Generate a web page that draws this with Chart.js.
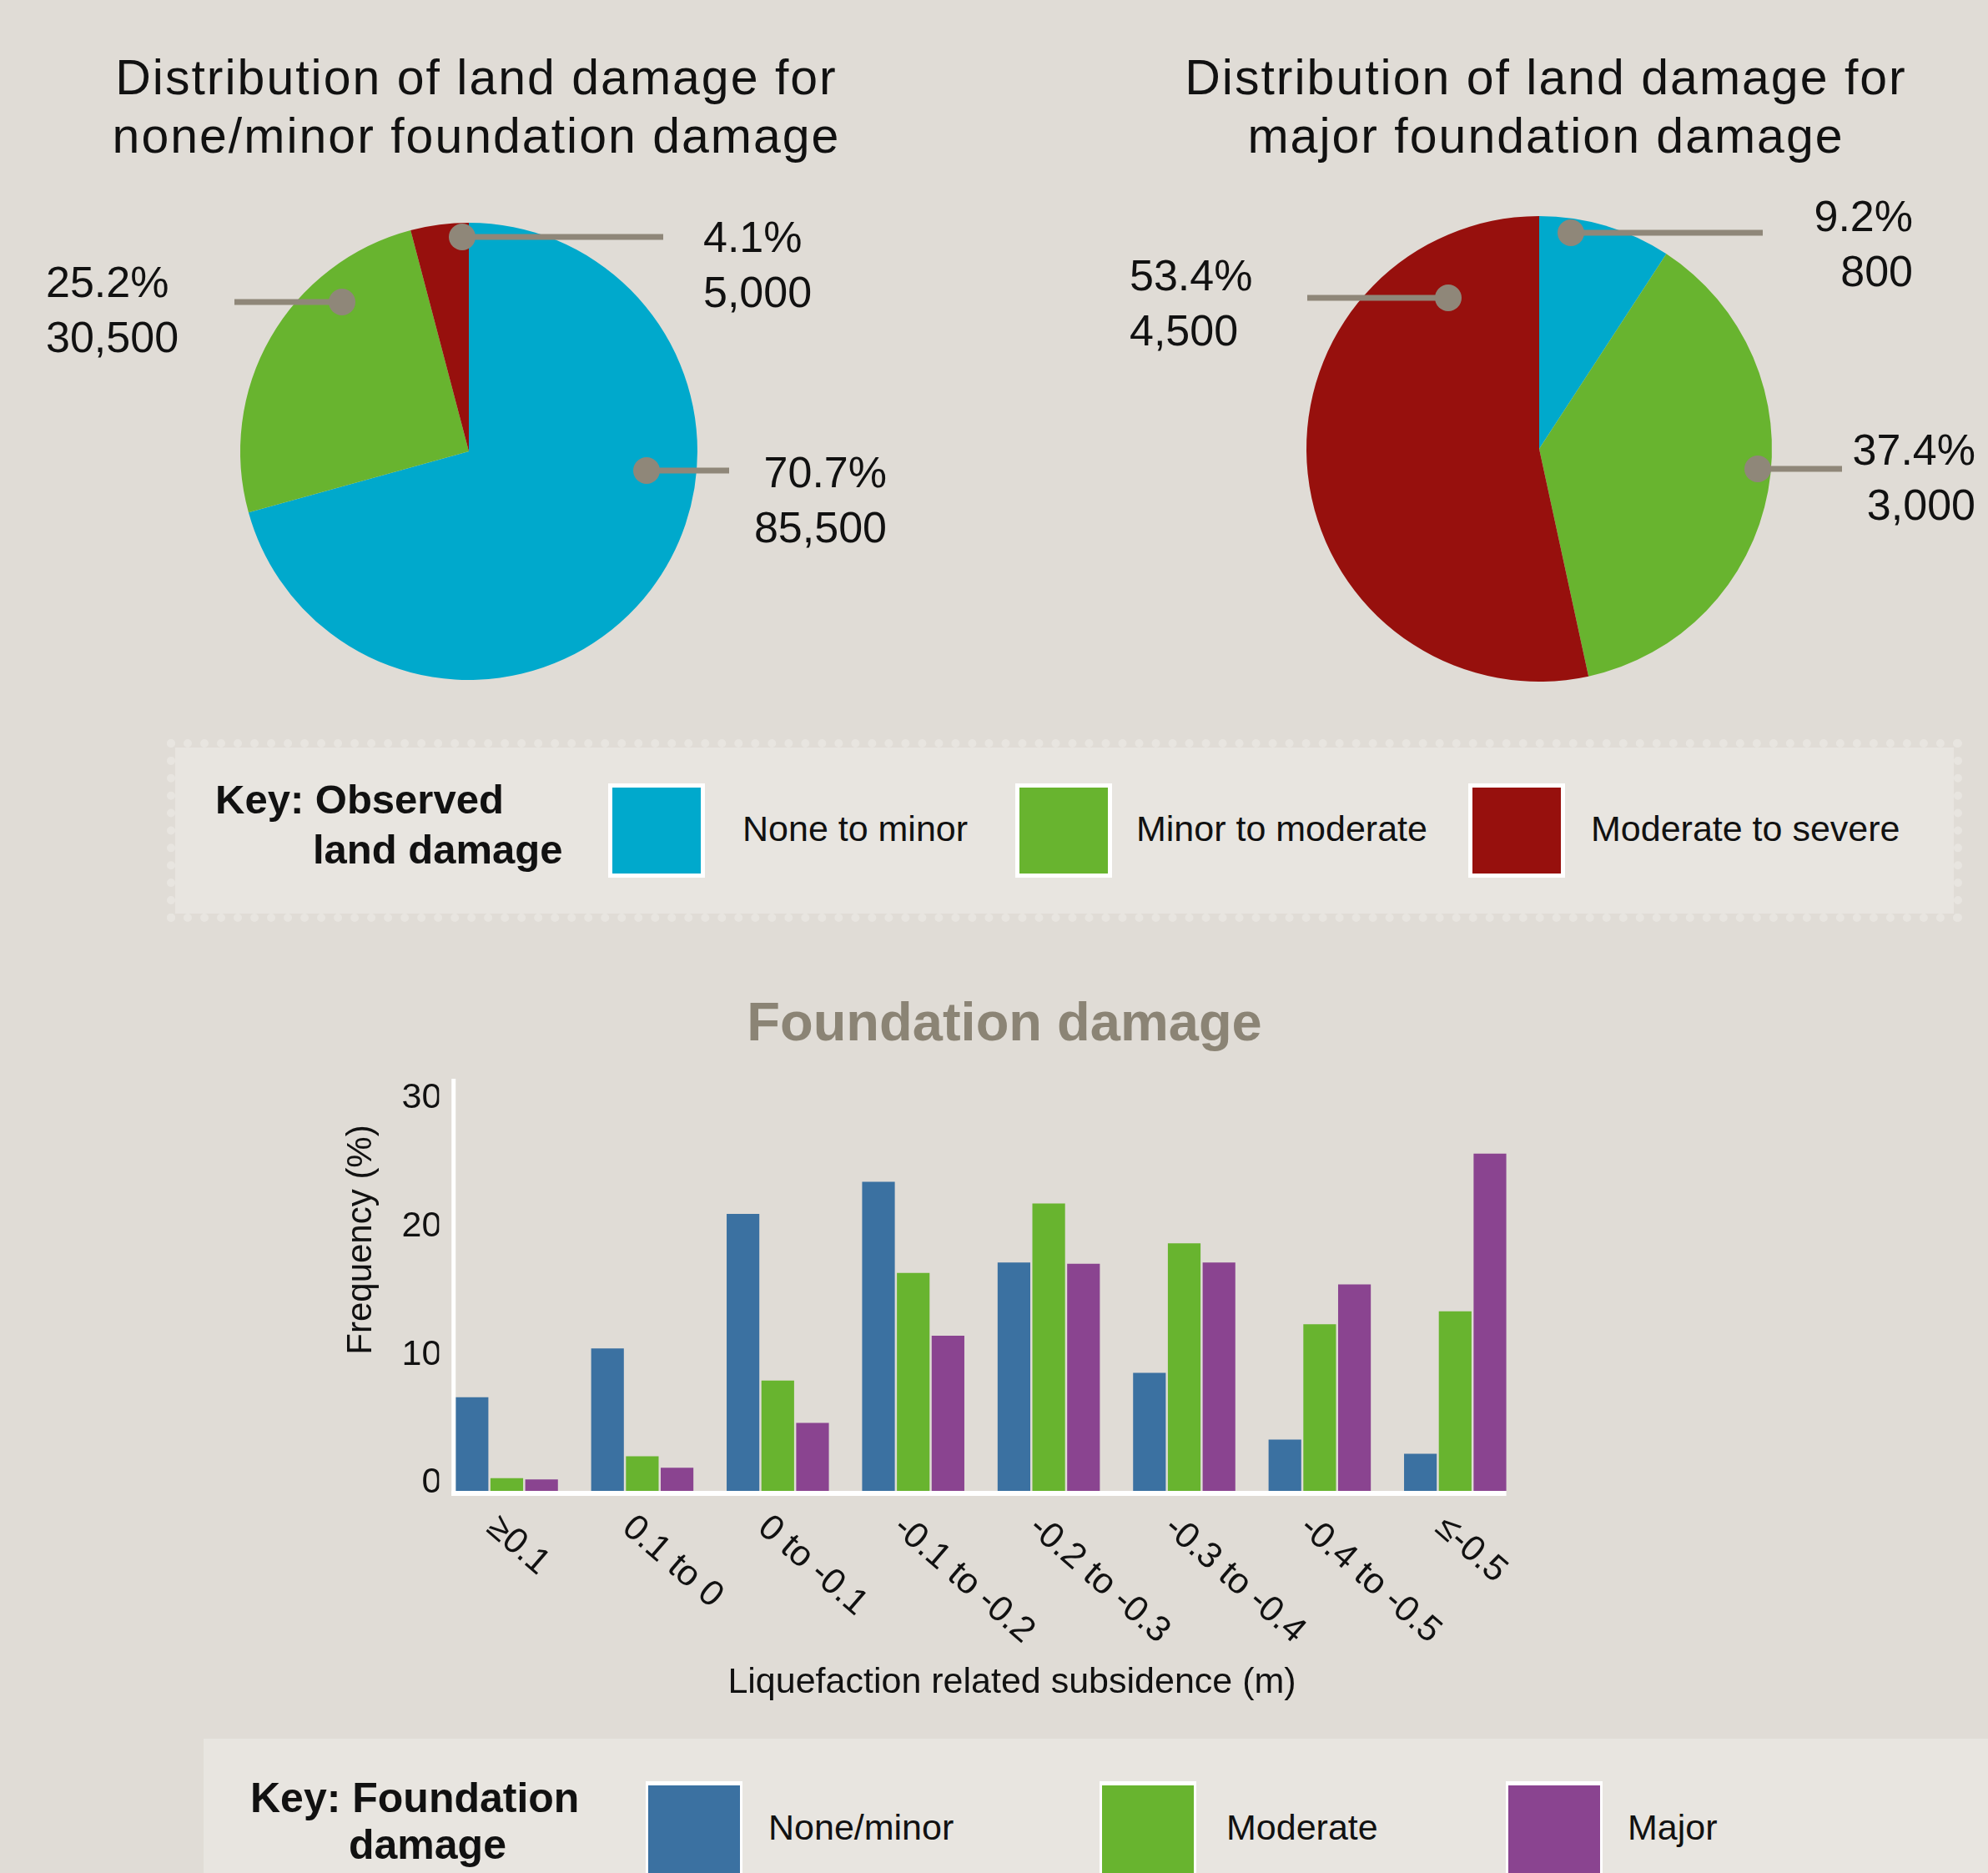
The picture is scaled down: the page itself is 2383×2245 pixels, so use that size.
<!DOCTYPE html>
<html>
<head>
<meta charset="utf-8">
<script src="https://cdn.jsdelivr.net/npm/chart.js@4"></script>
<style>
    body { margin: 0; background: #e0dcd6; font-family: "Liberation Sans", Arial, sans-serif; color: #111; }
    #page { position: relative; width: 2383px; height: 2245px; overflow: hidden; }
    .abs { position: absolute; white-space: nowrap; }
    canvas { position: absolute; }
    .pieTitle { font-size: 59px; letter-spacing: 2px; line-height: 70px; text-align: center; width: 1000px; }
    .keyBox { position: absolute; background: #e8e5e0; box-sizing: border-box; }
    .keyHead { font-weight: bold; font-size: 49px; line-height: 49px; }
    .keyText { font-size: 43px; line-height: 43px; }
    .swatch { position: absolute; box-sizing: border-box; border: 5px solid #fff; width: 116px; }
</style>
</head>
<body>
<div id="page">
    <canvas id="pieMinor" width="1190" height="680" style="left:0;top:200px"></canvas>
    <canvas id="pieMajor" width="1192" height="680" style="left:1191px;top:200px"></canvas>
    <canvas id="barChart" width="1600" height="800" style="left:300px;top:1250px"></canvas>

    <div class="abs pieTitle" style="left:71px;top:58px">Distribution of land damage for<br>none/minor foundation damage</div>
    <div class="abs pieTitle" style="left:1353px;top:58px">Distribution of land damage for<br>major foundation damage</div>

    <div class="keyBox" style="left:200px;top:886px;width:2152px;height:219px;border:10px dotted #e8e5e0;background-clip:padding-box"></div>
    <div class="abs keyHead" style="left:258px;top:934px">Key: Observed</div>
    <div class="abs keyHead" style="left:375px;top:994px">land damage</div>
    <div class="swatch" style="left:729px;top:939px;height:113px;background:#00a9cc"></div>
    <div class="swatch" style="left:1217px;top:939px;height:113px;background:#68b42f"></div>
    <div class="swatch" style="left:1760px;top:939px;height:113px;background:#97100d"></div>
    <div class="abs keyText" style="left:890px;top:972px">None to minor</div>
    <div class="abs keyText" style="left:1362px;top:972px">Minor to moderate</div>
    <div class="abs keyText" style="left:1907px;top:972px">Moderate to severe</div>

    <div class="abs" style="left:704px;top:1192px;width:1000px;text-align:center;font-weight:bold;font-size:65px;line-height:65px;color:#8b8475">Foundation damage</div>
    <div class="abs" style="left:231px;top:1465px;width:400px;text-align:center;font-size:42px;line-height:42px;transform:rotate(-90deg)">Frequency (%)</div>
    <div class="abs" style="left:713px;top:1993px;width:1000px;text-align:center;font-size:43px;line-height:43px">Liquefaction related subsidence (m)</div>

    <div class="keyBox" style="left:244px;top:2084px;width:2139px;height:200px"></div>
    <div class="abs keyHead" style="left:300px;top:2130px;font-size:50px;line-height:50px">Key: Foundation</div>
    <div class="abs keyHead" style="left:418px;top:2186px;font-size:50px;line-height:50px">damage</div>
    <div class="swatch" style="left:774px;top:2135px;height:140px;background:#3b71a1;border-width:5px 3px 0 3px"></div>
    <div class="swatch" style="left:1318px;top:2135px;height:140px;background:#68b42f;border-width:5px 3px 0 3px"></div>
    <div class="swatch" style="left:1805px;top:2135px;height:140px;background:#8a4490;border-width:5px 3px 0 3px"></div>
    <div class="abs keyText" style="left:921px;top:2169px">None/minor</div>
    <div class="abs keyText" style="left:1470px;top:2169px">Moderate</div>
    <div class="abs keyText" style="left:1951px;top:2169px">Major</div>
</div>

<script>
// land damage categories, shares (%) and property counts
const landCategories = ["None to minor", "Minor to moderate", "Moderate to severe"];
const minorShare = [70.7, 25.2, 4.1];
const minorCounts = ["85,500", "30,500", "5,000"];
const majorShare = [9.2, 37.4, 53.4];
const majorCounts = ["800", "3,000", "4,500"];

// foundation damage frequency (%) per subsidence bin
const subsidenceBins = ["\u22650.1", "0.1 to 0", "0 to -0.1", "-0.1 to -0.2", "-0.2 to -0.3", "-0.3 to -0.4", "-0.4 to -0.5", "\u2264-0.5"];
const noneMinorFreq = [7.3, 11.1, 21.6, 24.1, 17.8, 9.2, 4.0, 2.9];
const moderateFreq = [1.0, 2.7, 8.6, 17.0, 22.4, 19.3, 13.0, 14.0];
const majorFreq = [0.9, 1.8, 5.3, 12.1, 17.7, 17.8, 16.1, 26.3];
const freqTicks = [0, 10, 20, 30];

const FONT = "'Liberation Sans', Arial, sans-serif";
const GREY = "#8f8779";
const LAND_COLOURS = ["#00a9cc", "#68b42f", "#97100d"];

// leader line placement, offsets from the pie centre (px)
const minorLeaders = [
    { dot: [213, 23], lineTo: 312, textX: 501, align: "right", base: 43 },
    { dot: [-152, -179], lineTo: -281, textX: -507, align: "left", base: -185 },
    { dot: [-8, -257], lineTo: 233, textX: 281, align: "left", base: -239 },
];
const majorLeaders = [
    { dot: [38, -259], lineTo: 268, textX: 448, align: "right", base: -261 },
    { dot: [262, 24], lineTo: 363, textX: 523, align: "right", base: 19 },
    { dot: [-109, -181], lineTo: -278, textX: -491, align: "left", base: -190 },
];

function leaderPlugin(leaders, counts) {
    return {
        id: "leaders",
        afterDatasetsDraw(chart) {
            const ctx = chart.ctx;
            const arc = chart.getDatasetMeta(0).data[0];
            const data = chart.data.datasets[0].data;
            ctx.save();
            leaders.forEach((l, i) => {
                let x = arc.x + l.dot[0];
                let y = arc.y + l.dot[1];
                ctx.strokeStyle = GREY;
                ctx.lineWidth = 7;
                ctx.beginPath();
                ctx.moveTo(x, y);
                ctx.lineTo(arc.x + l.lineTo, y);
                ctx.stroke();
                ctx.fillStyle = GREY;
                ctx.beginPath();
                ctx.arc(x, y, 16, 0, Math.PI * 2);
                ctx.fill();

                ctx.fillStyle = "#111";
                ctx.font = "52px " + FONT;
                ctx.textAlign = l.align;
                ctx.textBaseline = "alphabetic";
                ctx.fillText(data[i].toFixed(1) + "%", arc.x + l.textX, arc.y + l.base);
                ctx.fillText(counts[i], arc.x + l.textX, arc.y + l.base + 66);
            });
            ctx.restore();
        },
    };
}

function makePie(id, share, padding, leaders, counts) {
    return new Chart(document.getElementById(id), {
        type: "pie",
        data: {
            labels: landCategories,
            datasets: [{ data: share, backgroundColor: LAND_COLOURS, borderWidth: 0 }],
        },
        options: {
            responsive: false,
            animation: false,
            layout: { padding: padding },
            plugins: { legend: { display: false }, tooltip: { enabled: false } },
        },
        plugins: [leaderPlugin(leaders, counts)],
    });
}

makePie("pieMinor", minorShare, { left: 288, right: 354, top: 67, bottom: 65 }, minorLeaders, minorCounts);
makePie("pieMajor", majorShare, { left: 375, right: 259, top: 59, bottom: 63 }, majorLeaders, majorCounts);

// white axis lines hugging the bars, and slanted category labels
const barAxes = {
    id: "barAxes",
    afterDatasetsDraw(chart) {
        const ctx = chart.ctx;
        const area = chart.chartArea;
        const first = chart.getDatasetMeta(0).data[0];
        const lastMeta = chart.getDatasetMeta(chart.data.datasets.length - 1);
        const last = lastMeta.data[lastMeta.data.length - 1];
        const left = first.x - first.width / 2;
        const right = last.x + last.width / 2;

        ctx.save();
        ctx.fillStyle = "#fff";
        ctx.fillRect(left - 5, area.top - 2, 5, area.bottom - area.top + 8);
        ctx.fillRect(left - 5, area.bottom, right - left + 5, 6);

        const xScale = chart.scales.x;
        ctx.fillStyle = "#111";
        ctx.font = "43px " + FONT;
        ctx.textAlign = "left";
        ctx.textBaseline = "top";
        chart.data.labels.forEach((label, i) => {
            ctx.save();
            ctx.translate(xScale.getPixelForValue(i) - 4, area.bottom + 22);
            ctx.rotate(41 * Math.PI / 180);
            ctx.fillText(label, 0, 0);
            ctx.restore();
        });
        ctx.restore();
    },
};

new Chart(document.getElementById("barChart"), {
    type: "bar",
    data: {
        labels: subsidenceBins,
        datasets: [
            { label: "None/minor", data: noneMinorFreq, backgroundColor: "#3b71a1" },
            { label: "Moderate", data: moderateFreq, backgroundColor: "#68b42f" },
            { label: "Major", data: majorFreq, backgroundColor: "#8a4490" },
        ],
    },
    options: {
        responsive: false,
        animation: false,
        layout: { padding: { top: 45, right: 74.5, left: 0, bottom: 0 } },
        datasets: { bar: { categoryPercentage: 0.77, barPercentage: 0.94 } },
        plugins: { legend: { display: false }, tooltip: { enabled: false } },
        scales: {
            x: {
                grid: { display: false },
                border: { display: false },
                ticks: { display: false },
                afterFit: (scale) => { scale.height = 263; },
            },
            y: {
                min: 0,
                max: 32,
                grid: { display: false, drawTicks: false },
                border: { display: false },
                afterBuildTicks: (scale) => {
                    scale.ticks = freqTicks.map((v) => ({ value: v }));
                },
                ticks: {
                    padding: -3,
                    labelOffset: -9.5,
                    color: "#111",
                    font: { size: 43, family: FONT },
                },
                afterFit: (scale) => { scale.width = 226.3; },
            },
        },
    },
    plugins: [barAxes],
});
</script>
</body>
</html>
